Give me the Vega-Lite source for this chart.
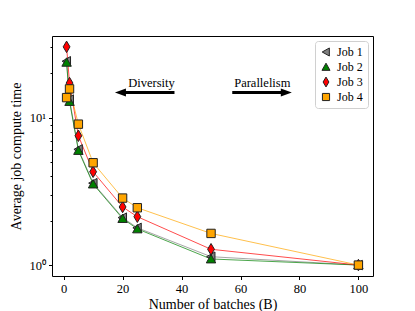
{
  "$schema": "https://vega.github.io/schema/vega-lite/v6.json",
  "width": 321,
  "height": 240,
  "autosize": {"type": "none"},
  "padding": {"left": 52, "top": 36, "right": 42, "bottom": 35},
  "background": "white",
  "config": {
    "font": "Liberation Serif",
    "view": {"stroke": "black", "strokeWidth": 1},
    "axis": {"domain": false, "grid": false, "tickColor": "black", "labelColor": "black", "titleColor": "black", "labelFont": "Liberation Serif", "titleFont": "Liberation Serif", "labelFontSize": 12.5, "titleFontSize": 14, "titleFontWeight": "normal", "tickSize": 3.5},
    "legend": {"labelFont": "Liberation Serif", "labelFontSize": 12, "labelColor": "black"}
  },
  "datasets": {
    "series": [
      {"job": "Job 1", "B": 1, "time": 24.2},
      {"job": "Job 1", "B": 2, "time": 13.3},
      {"job": "Job 1", "B": 5, "time": 6.1},
      {"job": "Job 1", "B": 10, "time": 3.6},
      {"job": "Job 1", "B": 20, "time": 2.1},
      {"job": "Job 1", "B": 25, "time": 1.79},
      {"job": "Job 1", "B": 50, "time": 1.14},
      {"job": "Job 1", "B": 100, "time": 1.0},
      {"job": "Job 2", "B": 1, "time": 23.8},
      {"job": "Job 2", "B": 2, "time": 12.9},
      {"job": "Job 2", "B": 5, "time": 6.0},
      {"job": "Job 2", "B": 10, "time": 3.55},
      {"job": "Job 2", "B": 20, "time": 2.07},
      {"job": "Job 2", "B": 25, "time": 1.76},
      {"job": "Job 2", "B": 50, "time": 1.1},
      {"job": "Job 2", "B": 100, "time": 1.0},
      {"job": "Job 3", "B": 1, "time": 30.3},
      {"job": "Job 3", "B": 2, "time": 17.2},
      {"job": "Job 3", "B": 5, "time": 7.55},
      {"job": "Job 3", "B": 10, "time": 4.3},
      {"job": "Job 3", "B": 20, "time": 2.48},
      {"job": "Job 3", "B": 25, "time": 2.13},
      {"job": "Job 3", "B": 50, "time": 1.28},
      {"job": "Job 3", "B": 100, "time": 1.0},
      {"job": "Job 4", "B": 1, "time": 13.7},
      {"job": "Job 4", "B": 2, "time": 15.7},
      {"job": "Job 4", "B": 5, "time": 9.05},
      {"job": "Job 4", "B": 10, "time": 4.95},
      {"job": "Job 4", "B": 20, "time": 2.85},
      {"job": "Job 4", "B": 25, "time": 2.45},
      {"job": "Job 4", "B": 50, "time": 1.64},
      {"job": "Job 4", "B": 100, "time": 1.0}
    ],
    "notes": [
      {"label": "Diversity", "x": 29.8, "y": 16.3},
      {"label": "Parallelism", "x": 67.4, "y": 16.3}
    ],
    "arrows": [
      {"dir": "left", "start": 37.6, "end": 19, "tip": 17.4, "y": 14.85},
      {"dir": "right", "start": 57.2, "end": 75.8, "tip": 77.4, "y": 14.85}
    ]
  },
  "layer": [
    {
      "data": {"name": "series"},
      "transform": [{"filter": "datum.job == 'Job 1'"}],
      "mark": {"type": "line", "strokeWidth": 1, "opacity": 0.7, "color": "#808080"},
      "encoding": {"x": {"field": "B", "type": "quantitative"}, "y": {"field": "time", "type": "quantitative"}}
    },
    {
      "data": {"name": "series"},
      "transform": [{"filter": "datum.job == 'Job 2'"}],
      "mark": {"type": "line", "strokeWidth": 1, "opacity": 0.7, "color": "#008000"},
      "encoding": {"x": {"field": "B", "type": "quantitative"}, "y": {"field": "time", "type": "quantitative"}}
    },
    {
      "data": {"name": "series"},
      "transform": [{"filter": "datum.job == 'Job 3'"}],
      "mark": {"type": "line", "strokeWidth": 1, "opacity": 0.7, "color": "#ff0000"},
      "encoding": {"x": {"field": "B", "type": "quantitative"}, "y": {"field": "time", "type": "quantitative"}}
    },
    {
      "data": {"name": "series"},
      "transform": [{"filter": "datum.job == 'Job 4'"}],
      "mark": {"type": "line", "strokeWidth": 1, "opacity": 0.7, "color": "#ffa500"},
      "encoding": {"x": {"field": "B", "type": "quantitative"}, "y": {"field": "time", "type": "quantitative"}}
    },
    {
      "data": {"name": "series"},
      "mark": {"type": "point", "filled": true, "opacity": 1, "stroke": "#222", "strokeWidth": 1, "size": 110},
      "encoding": {
        "x": {
          "field": "B", "type": "quantitative",
          "scale": {"domain": [-3.95, 104.95], "nice": false, "zero": false},
          "axis": {"values": [0, 20, 40, 60, 80, 100], "title": "Number of batches (B)", "titlePadding": 2, "labelPadding": 3}
        },
        "y": {
          "field": "time", "type": "quantitative",
          "scale": {"type": "log", "domain": [0.843, 35.9], "nice": false},
          "axis": {
            "values": [1, 2, 3, 4, 5, 6, 7, 8, 9, 10, 20, 30],
            "labelExpr": "datum.value == 1 ? '10⁰' : (datum.value == 10 ? '10¹' : '')",
            "tickSize": {"condition": {"test": "datum.value == 1 || datum.value == 10", "value": 3.5}, "value": 2},
            "title": "Average job compute time",
            "titlePadding": 6,
            "labelPadding": 3
          }
        },
        "color": {
          "field": "job", "type": "nominal",
          "scale": {"domain": ["Job 1", "Job 2", "Job 3", "Job 4"], "range": ["#808080", "#008000", "#ff0000", "#ffa500"]},
          "legend": {"title": null, "orient": "top-right", "offset": 5, "padding": 5, "strokeColor": "#d0d0d0", "cornerRadius": 3, "fillColor": "white", "symbolStrokeColor": "#222", "symbolStrokeWidth": 1, "symbolSize": 80, "symbolOpacity": 1, "rowPadding": 2, "labelOffset": 5, "labelFont": "Liberation Serif", "labelFontSize": 12, "labelFontWeight": "normal"}
        },
        "shape": {
          "field": "job", "type": "nominal",
          "scale": {"domain": ["Job 1", "Job 2", "Job 3", "Job 4"], "range": ["M-0.85,0L0.75,-0.9L0.75,0.9Z", "M0,-0.85L0.9,0.75L-0.9,0.75Z", "M0,-1.1L0.65,0L0,1.1L-0.65,0Z", "M-0.8,-0.8L0.8,-0.8L0.8,0.8L-0.8,0.8Z"]}
        }
      }
    },
    {
      "data": {"name": "arrows"},
      "mark": {"type": "rule", "color": "black", "strokeWidth": 3},
      "encoding": {
        "x": {"field": "start", "type": "quantitative"},
        "x2": {"field": "end"},
        "y": {"field": "y", "type": "quantitative"}
      }
    },
    {
      "data": {"name": "arrows"},
      "transform": [{"filter": "datum.dir == 'left'"}],
      "mark": {"type": "point", "filled": true, "color": "black", "opacity": 1, "size": 121, "shape": "M0,0L2,-0.73L2,0.73Z"},
      "encoding": {
        "x": {"field": "tip", "type": "quantitative"},
        "y": {"field": "y", "type": "quantitative"}
      }
    },
    {
      "data": {"name": "arrows"},
      "transform": [{"filter": "datum.dir == 'right'"}],
      "mark": {"type": "point", "filled": true, "color": "black", "opacity": 1, "size": 121, "shape": "M0,0L-2,-0.73L-2,0.73Z"},
      "encoding": {
        "x": {"field": "tip", "type": "quantitative"},
        "y": {"field": "y", "type": "quantitative"}
      }
    },
    {
      "data": {"name": "notes"},
      "mark": {"type": "text", "font": "Liberation Serif", "fontSize": 12.5, "color": "black", "align": "center", "baseline": "alphabetic"},
      "encoding": {
        "x": {"field": "x", "type": "quantitative"},
        "y": {"field": "y", "type": "quantitative"},
        "text": {"field": "label"}
      }
    }
  ]
}
